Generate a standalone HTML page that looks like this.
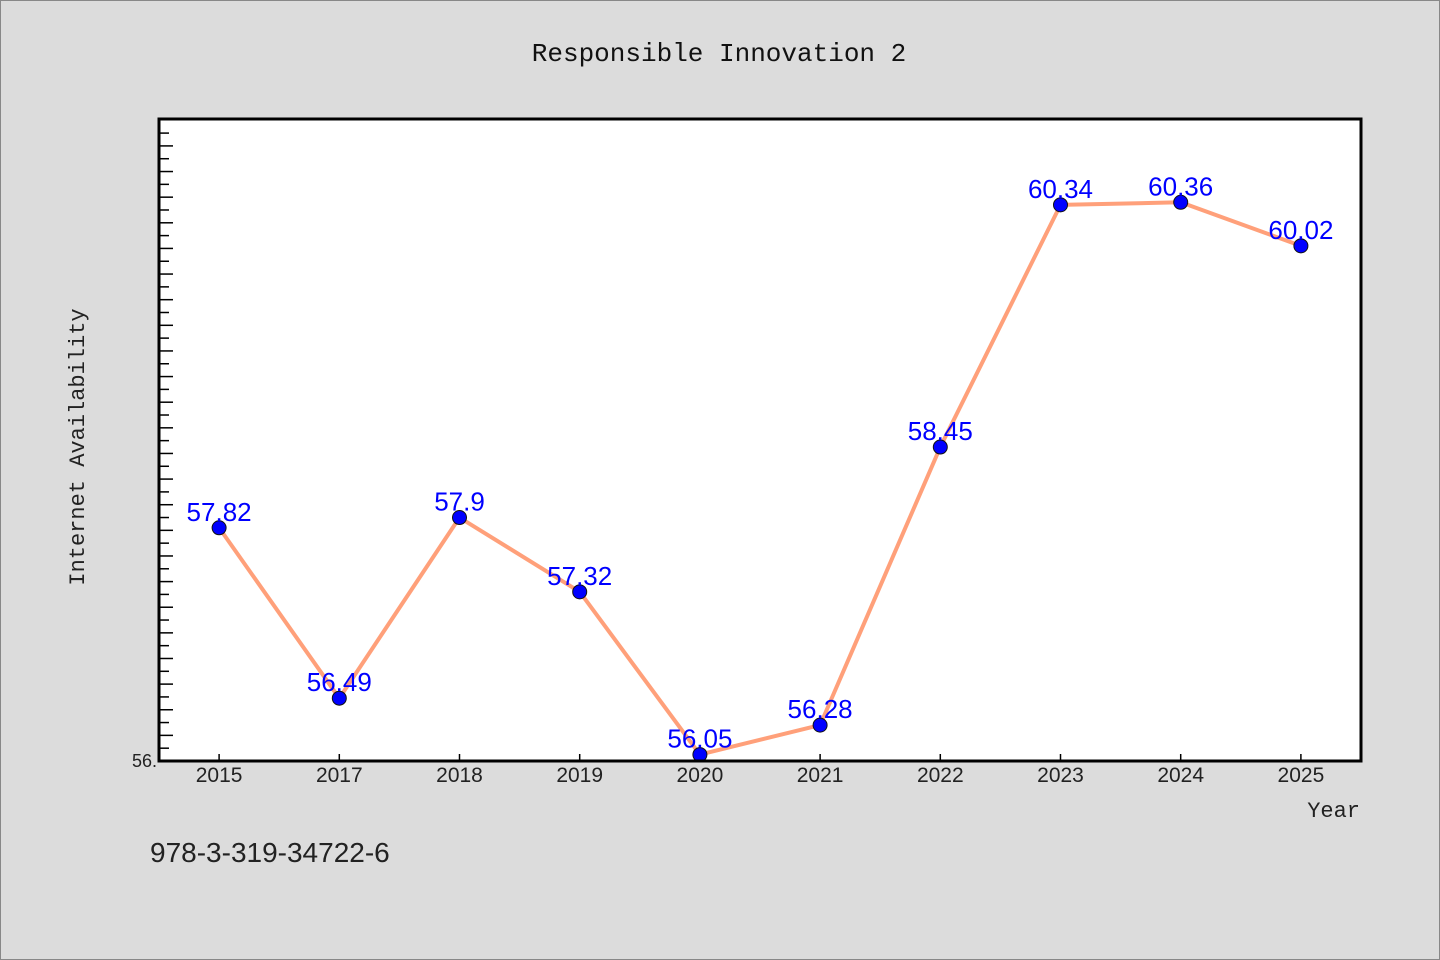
<!DOCTYPE html>
<html><head><meta charset="utf-8"><style>
body{margin:0;background:#dcdcdc;}
svg{display:block}
text{font-family:"WenQuanYi Zen Hei","Liberation Sans",sans-serif;}
.mono{font-family:"Liberation Mono","WenQuanYi Zen Hei",monospace;}
</style></head><body>
<svg id="c" width="1440" height="960" xmlns="http://www.w3.org/2000/svg">
<rect x="0.5" y="0.5" width="1439" height="959" fill="#dcdcdc" stroke="#888"/>
<text class="mono" x="719" y="61" font-size="26" text-anchor="middle" fill="#111">Responsible Innovation 2</text>
<rect x="159" y="119" width="1202" height="642" fill="#fff"/>
<g id="ticks"></g>
<g id="series"></g>
<rect x="159" y="119" width="1202" height="642" fill="none" stroke="#000" stroke-width="3"/>
<text x="157" y="767" font-size="18" text-anchor="end" fill="#222">56.</text>
<text class="mono" x="0" y="0" font-size="22" fill="#222" transform="translate(84,447) rotate(-90)" text-anchor="middle">Internet Availability</text>
<text class="mono" x="1360" y="817" font-size="22" text-anchor="end" fill="#222">Year</text>
<text x="150" y="862" font-size="28" fill="#222">978-3-319-34722-6</text>
</svg>
<script>
const categories=["2015","2017","2018","2019","2020","2021","2022","2023","2024","2025"];
const values=[57.82,56.49,57.9,57.32,56.05,56.28,58.45,60.34,60.36,60.02];
const labels=["57.82","56.49","57.9","57.32","56.05","56.28","58.45","60.34","60.36","60.02"];
const NS="http://www.w3.org/2000/svg";
const X0=159,W=1202,Y0=761,H=642,YMIN=56,YMAX=61.01;
const bw=W/categories.length;
function xs(i){return X0+bw*(i+0.5);}
function ys(v){return Y0-(v-YMIN)/(YMAX-YMIN)*H;}
function mk(t,a){const e=document.createElementNS(NS,t);for(const k in a)e.setAttribute(k,a[k]);return e;}
const tg=document.getElementById('ticks');
for(let k=1;k<=50;k++){const v=YMIN+k*0.1;const y=ys(v);if(y<121)break;
 const long=k%2===0;const l=mk('line',{x1:X0,x2:X0+(long?14:10),y1:y,y2:y,stroke:'#000','stroke-width':1.5});
 
 tg.appendChild(l);}
categories.forEach((c,i)=>{const x=xs(i);
 const l=mk('line',{x1:x,x2:x,y1:Y0,y2:Y0-7,stroke:'#000','stroke-width':1.5});
 
 tg.appendChild(l);
 const t=mk('text',{x:x,y:782,'font-size':21,'text-anchor':'middle',fill:'#222'});t.textContent=c;
 
 tg.appendChild(t);});
const sg=document.getElementById('series');
const pl=mk('polyline',{points:values.map((v,i)=>xs(i)+','+ys(v)).join(' '),fill:'none',stroke:'#FFA07A','stroke-width':4,'stroke-linejoin':'round'});

sg.appendChild(pl);
values.forEach((v,i)=>{const c=mk('circle',{cx:xs(i),cy:ys(v),r:7,fill:'#0000ff',stroke:'#111','stroke-width':1});
 
 sg.appendChild(c);});
values.forEach((v,i)=>{const t=mk('text',{x:xs(i),y:ys(v)-7,'font-size':26,'text-anchor':'middle',fill:'#0000ff'});t.textContent=labels[i];
 
 sg.appendChild(t);});
</script>
</body></html>
